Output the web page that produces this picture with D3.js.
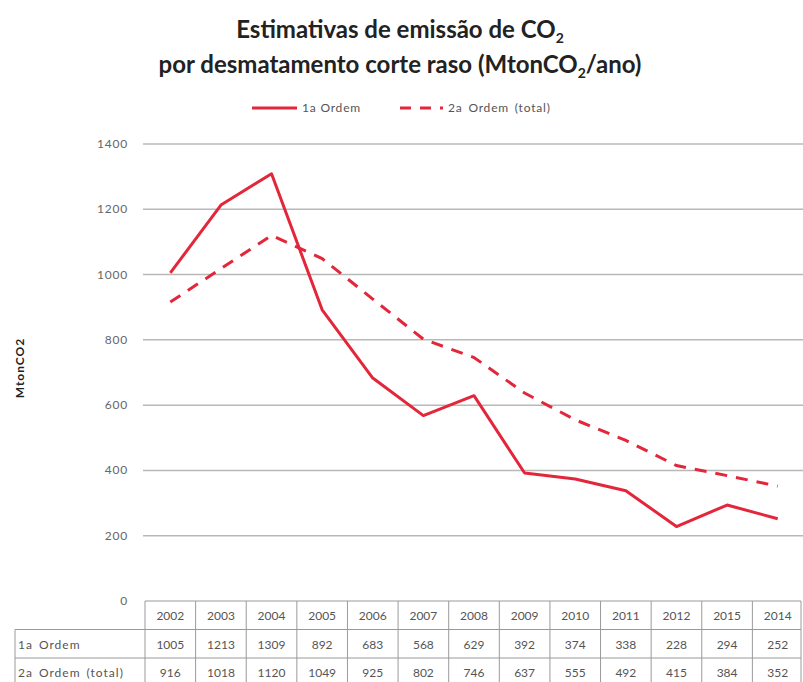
<!DOCTYPE html>
<html>
<head>
<meta charset="utf-8">
<script src="https://cdn.jsdelivr.net/npm/d3@7"></script>
<style>
  body { margin: 0; background: #fff; }
  svg { font-family: Lato, "Open Sans", sans-serif; }
</style>
</head>
<body>
<svg id="chart" width="803" height="682"></svg>
<script>
// data
var years = ["2002", "2003", "2004", "2005", "2006", "2007", "2008", "2009", "2010", "2011", "2012", "2013", "2014"];
var yearLabels = ["2002", "2003", "2004", "2005", "2006", "2007", "2008", "2009", "2010", "2011", "2012", "2015", "2014"];
var ordem1 = [1005, 1213, 1309, 892, 683, 568, 629, 392, 374, 338, 228, 294, 252];
var ordem2 = [916, 1018, 1120, 1049, 925, 802, 746, 637, 555, 492, 415, 384, 352];
var seriesNames = ["1a Ordem", "2a Ordem (total)"];
var yTicks = [0, 200, 400, 600, 800, 1000, 1200, 1400];

var red = "#e3263a";
var svg = d3.select("#chart");

var plotLeft = 145, plotRight = 803, plotTop = 144, plotBottom = 601;

var x = d3.scaleBand().domain(years).range([plotLeft, plotRight]);
var y = d3.scaleLinear().domain([0, 1400]).range([plotBottom, plotTop]);

// title
var title = svg.append("text")
    .attr("text-anchor", "middle")
    .style("font-weight", "bold")
    .style("font-size", "24px")
    .style("fill", "#222");
var t1 = title.append("tspan").attr("x", 400).attr("y", 38);
t1.append("tspan").text("Estimativas de emissão de CO");
t1.append("tspan").attr("dy", 5).style("font-size", "14px").text("2");
var t2 = title.append("tspan").attr("x", 400).attr("y", 73);
t2.append("tspan").text("por desmatamento corte raso (MtonCO");
t2.append("tspan").attr("dy", 5).style("font-size", "14px").text("2");
t2.append("tspan").attr("dy", -5).text("/ano)");

// legend
var legend = svg.append("g").attr("transform", "translate(0,108)")
    .style("font-size", "12px").style("fill", "#555").style("letter-spacing", "0.8px");
legend.append("line").attr("x1", 252).attr("x2", 297).attr("y1", 0).attr("y2", 0)
    .style("stroke", red).style("stroke-width", 3);
legend.append("text").attr("x", 302).attr("y", 4).text(seriesNames[0]);
legend.append("line").attr("x1", 400).attr("x2", 443).attr("y1", 0).attr("y2", 0)
    .style("stroke", red).style("stroke-width", 3).style("stroke-dasharray", "11,9");
legend.append("text").attr("x", 448).attr("y", 4).text(seriesNames[1])
    .style("word-spacing", "2px");

// gridlines + y labels
svg.selectAll(".grid")
    .data(yTicks.filter(function (d) { return d > 0; }))
    .enter().append("line")
    .attr("class", "grid")
    .attr("x1", plotLeft - 2)
    .attr("x2", plotRight)
    .attr("y1", function (d) { return y(d); })
    .attr("y2", function (d) { return y(d); })
    .style("stroke", "#b8b8b8")
    .style("stroke-width", 1.5);

svg.selectAll(".ylab")
    .data(yTicks)
    .enter().append("text")
    .attr("class", "ylab")
    .attr("x", 128)
    .attr("y", function (d) { return y(d) + 4; })
    .attr("text-anchor", "end")
    .style("font-size", "12px")
    .style("letter-spacing", "0.8px")
    .style("fill", "#666")
    .text(function (d) { return d; });

svg.append("text")
    .attr("transform", "translate(24,368) rotate(-90)")
    .attr("text-anchor", "middle")
    .style("font-size", "12px")
    .style("font-weight", "bold")
    .style("letter-spacing", "1px")
    .style("fill", "#222")
    .text("MtonCO2");

// lines
var line = d3.line()
    .x(function (d, i) { return x(years[i]) + x.bandwidth() / 2; })
    .y(function (d) { return y(d); });

svg.append("path").datum(ordem2).attr("d", line)
    .style("fill", "none").style("stroke", red).style("stroke-width", 3)
    .style("stroke-dasharray", "12,9");
svg.append("path").datum(ordem1).attr("d", line)
    .style("fill", "none").style("stroke", red).style("stroke-width", 3)
    .style("stroke-linejoin", "round");

// data table
var rowH = 28.5;
var labelLeft = 15;
var table = svg.append("g").style("font-size", "12px").style("fill", "#555");
var border = { stroke: "#9a9a9a", width: 1 };

function hline(x1, x2, yy) {
    table.append("line").attr("x1", x1).attr("x2", x2).attr("y1", yy).attr("y2", yy)
        .style("stroke", border.stroke).style("stroke-width", border.width);
}
function vline(xx, y1, y2) {
    table.append("line").attr("x1", xx).attr("x2", xx).attr("y1", y1).attr("y2", y2)
        .style("stroke", border.stroke).style("stroke-width", border.width);
}

hline(plotLeft, plotRight - 2, plotBottom);
hline(labelLeft, plotRight - 2, plotBottom + rowH);
hline(labelLeft, plotRight - 2, plotBottom + rowH * 2);
hline(labelLeft, plotRight - 2, plotBottom + rowH * 3);
vline(labelLeft, plotBottom + rowH, plotBottom + rowH * 3);
years.forEach(function (yr) { vline(x(yr), plotBottom, plotBottom + rowH * 3); });
vline(plotRight - 2, plotBottom, plotBottom + rowH * 3);

table.selectAll(".hdr").data(yearLabels).enter().append("text")
    .attr("x", function (d, i) { return x(years[i]) + x.bandwidth() / 2; })
    .attr("y", plotBottom + 19)
    .attr("text-anchor", "middle")
    .text(function (d) { return d; });

[ordem1, ordem2].forEach(function (vals, r) {
    table.append("text")
        .attr("x", labelLeft + 3)
        .attr("y", plotBottom + rowH * (r + 1) + 19)
        .style("letter-spacing", "1px")
        .style("word-spacing", "2px")
        .text(seriesNames[r]);
    table.selectAll(".v" + r).data(vals).enter().append("text")
        .attr("x", function (d, i) { return x(years[i]) + x.bandwidth() / 2; })
        .attr("y", plotBottom + rowH * (r + 1) + 19)
        .attr("text-anchor", "middle")
        .text(function (d) { return d; });
});
</script>
</body>
</html>
